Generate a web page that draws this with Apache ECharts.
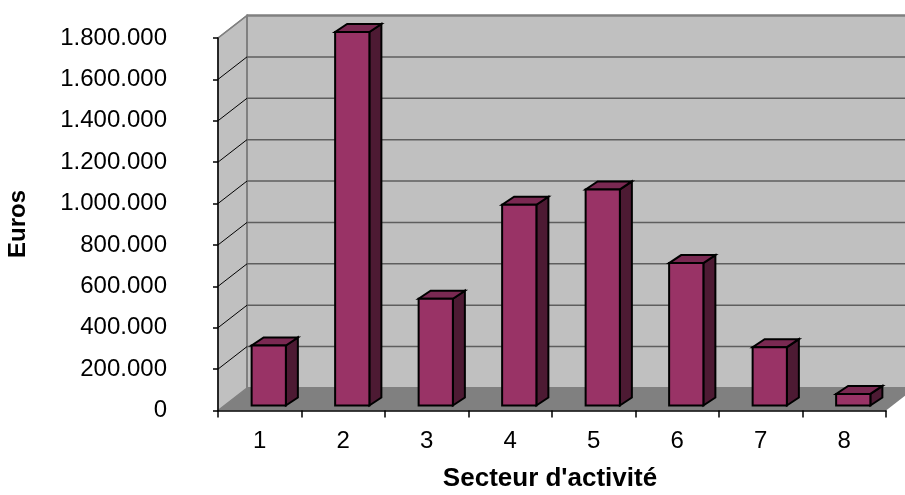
<!DOCTYPE html>
<html>
<head>
<meta charset="utf-8">
<script src="https://cdn.jsdelivr.net/npm/echarts@6/dist/echarts.min.js"></script>
<style>
html, body { margin: 0; padding: 0; background: #fff; }
#main { width: 905px; height: 495px; }
</style>
</head>
<body>
<div id="main"></div>
<script>
var categories = ['1', '2', '3', '4', '5', '6', '7', '8']; //secteurs
var values = [290000, 1805000, 516000, 970000, 1044000, 688000, 282000, 56000]; //euros
var yTicks = [0, 200000, 400000, 600000, 800000, 1000000, 1200000, 1400000, 1600000, 1800000];
var yMax = 1800000;

// profondeur 3D du plancher / murs
var DX = 29, DY = -22.5;

function fmt(v) {
	return String(v).replace(/\B(?=(\d{3})+(?!\d))/g, '.');
}

var myChart = echarts.init(document.getElementById('main'));

// murs + plancher
function renderWalls(params, api) {
	var band = api.size([1, 0])[0];
	var p0 = api.coord([0, 0]);
	var pt = api.coord([0, yMax]);
	var x0 = p0[0] - band / 2;
	var x1 = x0 + band * categories.length;
	var y0 = p0[1], yt = pt[1];
	return {
		type: 'group',
		children: [{
			type: 'polygon',
			shape: { points: [[x0, y0], [x0, yt], [x0 + DX, yt + DY], [x0 + DX, y0 + DY]] },
			style: { fill: '#c0c0c0', stroke: '#808080', lineWidth: 1.5 }
		}, {
			type: 'rect',
			shape: { x: x0 + DX, y: yt + DY, width: x1 - x0 + 40, height: y0 - yt },
			style: { fill: '#c0c0c0', stroke: '#808080', lineWidth: 2 }
		}, {
			type: 'polygon',
			shape: { points: [[x0, y0], [x1, y0], [x1 + DX, y0 + DY], [x0 + DX, y0 + DY]] },
			style: { fill: '#808080' }
		}]
	};
}

// lignes de quadrillage (mur gauche + mur du fond)
function renderGridLines(params, api) {
	var v = api.value(1);
	if (v === 0) return null;
	var band = api.size([1, 0])[0];
	var p = api.coord([0, v]);
	var x0 = p[0] - band / 2;
	var x1 = x0 + band * categories.length;
	var top = v === yMax;
	return {
		type: 'group',
		children: [{
			type: 'line',
			shape: { x1: x0, y1: p[1], x2: x0 + DX, y2: p[1] + DY },
			style: { stroke: top ? '#808080' : '#000', lineWidth: top ? 1.5 : 1 }
		}, {
			type: 'line',
			shape: { x1: x0 + DX, y1: p[1] + DY, x2: x1 + DX + 40, y2: p[1] + DY },
			style: { stroke: top ? '#808080' : '#5e5e5e', lineWidth: top ? 2 : 1.5 }
		}]
	};
}

// barres 3D
function renderBar(params, api) {
	var idx = api.value(0);
	var p = api.coord([idx, api.value(1)]);
	var p0 = api.coord([idx, 0]);
	var band = api.size([1, 0])[0];
	var w = band * 0.41;
	var cx = p[0] + 9;
	var l = cx - w / 2, r = cx + w / 2;
	var t = p[1] - 5, b = p0[1] - 5;
	var bdx = 12, bdy = -8;
	var line = { stroke: '#000', lineWidth: 2, lineJoin: 'miter' };
	return {
		type: 'group',
		children: [{
			type: 'polygon',
			shape: { points: [[r, t], [r + bdx, t + bdy], [r + bdx, b + bdy], [r, b]] },
			style: Object.assign({ fill: '#4d1a33' }, line)
		}, {
			type: 'polygon',
			shape: { points: [[l, t], [r, t], [r + bdx, t + bdy], [l + bdx, t + bdy]] },
			style: Object.assign({ fill: '#7a2952' }, line)
		}, {
			type: 'rect',
			shape: { x: l, y: t, width: w, height: b - t },
			style: Object.assign({ fill: '#993366' }, line)
		}]
	};
}

option = {
	animation: false,
	backgroundColor: '#fff',
	textStyle: { fontFamily: 'Liberation Sans, Arial, sans-serif' },
	grid: {
		left: 218,
		right: 19,
		top: 38,
		bottom: 84.5
	},
	xAxis: {
		type: 'category',
		data: categories,
		axisLine: { show: true, onZero: false, lineStyle: { color: '#000', width: 1.5 } },
		axisTick: { show: true, length: 7, lineStyle: { color: '#000', width: 1.5 } },
		axisLabel: { color: '#000', fontSize: 24, margin: 19 },
		splitLine: { show: false },
		z: 5
	},
	yAxis: {
		type: 'value',
		min: 0,
		max: yMax,
		interval: 200000,
		axisLine: { show: true, lineStyle: { color: '#000', width: 1.5 } },
		axisTick: { show: true, length: 5, lineStyle: { color: '#000', width: 1.5 } },
		axisLabel: {
			color: '#000',
			fontSize: 24,
			margin: 51,
			formatter: function(v) {
				return fmt(v);
			}
		},
		splitLine: { show: false },
		z: 5
	},
	series: [{
		name: 'murs',
		type: 'custom',
		renderItem: renderWalls,
		data: [[0, yMax]],
		z: 1,
		silent: true
	}, {
		name: 'quadrillage',
		type: 'custom',
		renderItem: renderGridLines,
		data: yTicks.map(function(v) {
			return [0, v];
		}),
		z: 2,
		silent: true
	}, {
		name: 'Euros',
		type: 'custom',
		renderItem: renderBar,
		data: values.map(function(v, i) {
			return [i, v];
		}),
		z: 3
	}],
	graphic: [{
		type: 'text',
		x: 18.5,
		y: 224,
		rotation: Math.PI / 2,
		style: {
			text: 'Euros',
			fontSize: 24,
			fontWeight: 'bold',
			fontFamily: 'Liberation Sans, Arial, sans-serif',
			fill: '#000',
			align: 'center',
			verticalAlign: 'middle'
		}
	}, {
		type: 'text',
		x: 550,
		y: 479,
		style: {
			text: "Secteur d'activité",
			fontSize: 26,
			fontWeight: 'bold',
			fontFamily: 'Liberation Sans, Arial, sans-serif',
			fill: '#000',
			align: 'center',
			verticalAlign: 'middle'
		}
	}]
};
myChart.setOption(option);
</script>
</body>
</html>
